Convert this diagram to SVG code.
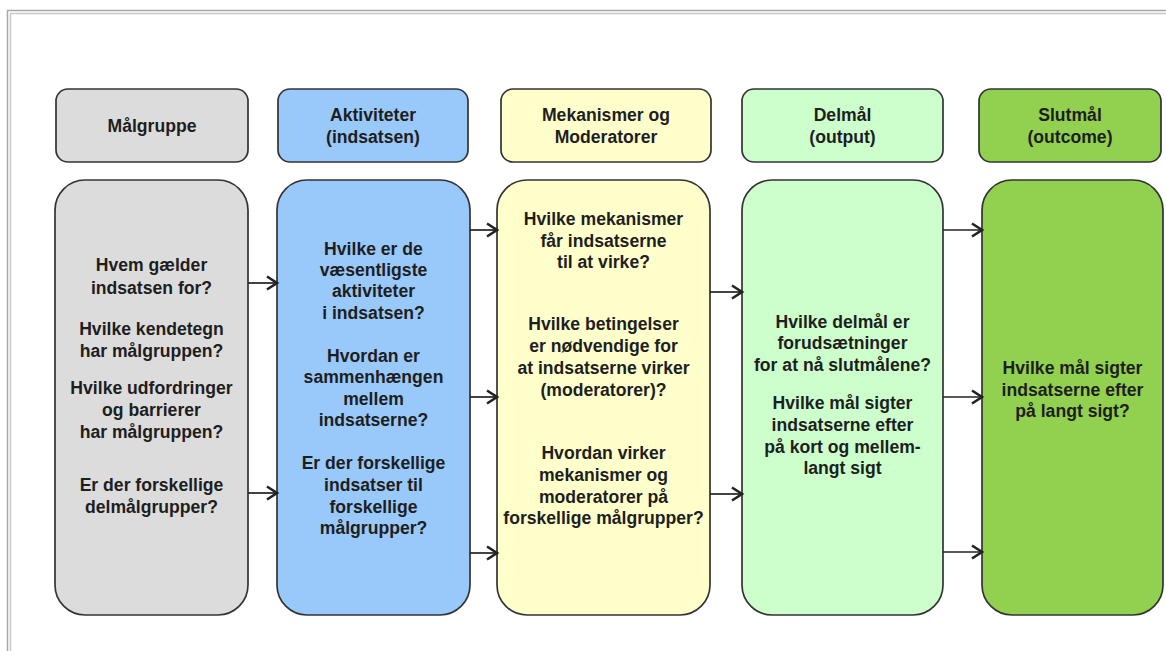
<svg xmlns="http://www.w3.org/2000/svg" width="1166" height="651" viewBox="0 0 1166 651">
<defs>
<style>
.box{stroke:#333;stroke-width:1.7}
.t{font-family:"Liberation Sans",Arial,sans-serif;font-weight:bold;font-size:17.6px;fill:#1e1e1e;text-anchor:middle}
.c{fill:none;stroke:#222;stroke-width:1.7}
</style>
<marker id="arr" viewBox="0 0 16 16" refX="13" refY="8" markerWidth="16" markerHeight="16" markerUnits="userSpaceOnUse" orient="auto">
<path d="M3,1.5 L13,8 L3,14.5" fill="none" stroke="#222" stroke-width="2.6" stroke-linejoin="miter"/>
</marker>
</defs>
<rect width="1166" height="651" fill="#fff"/>
<rect x="7.5" y="10.5" width="1300" height="800" fill="none" stroke="#a8a8a8" stroke-width="1.5"/>
<rect x="10.5" y="13.5" width="1300" height="800" fill="none" stroke="#c8c8c8" stroke-width="1.5"/>

<g id="h-malgruppe">
<rect class="box" x="56" y="89" width="192" height="73" rx="12" fill="#dcdcdc"/>
<text class="t" x="152" y="132">Målgruppe</text>
</g>
<g id="h-aktiviteter">
<rect class="box" x="278" y="89" width="190" height="73" rx="12" fill="#99c9fa"/>
<text class="t" x="373" y="121">Aktiviteter</text>
<text class="t" x="373" y="143">(indsatsen)</text>
</g>
<g id="h-mekanismer">
<rect class="box" x="501" y="89" width="210" height="73" rx="12" fill="#ffffcc"/>
<text class="t" x="606" y="121">Mekanismer og</text>
<text class="t" x="606" y="143">Moderatorer</text>
</g>
<g id="h-delmal">
<rect class="box" x="742" y="89" width="201" height="73" rx="12" fill="#ccffcc"/>
<text class="t" x="842.5" y="121">Delmål</text>
<text class="t" x="842.5" y="143">(output)</text>
</g>
<g id="h-slutmal">
<rect class="box" x="979" y="89" width="182" height="73" rx="12" fill="#92d050"/>
<text class="t" x="1070" y="121">Slutmål</text>
<text class="t" x="1070" y="143">(outcome)</text>
</g>

<g id="b-malgruppe">
<rect class="box" x="55" y="180" width="193" height="435" rx="30" fill="#dcdcdc"/>
<text class="t" x="151.5" y="271">Hvem gælder</text>
<text class="t" x="151.5" y="294">indsatsen for?</text>
<text class="t" x="151.5" y="335">Hvilke kendetegn</text>
<text class="t" x="151.5" y="357">har målgruppen?</text>
<text class="t" x="151.5" y="394">Hvilke udfordringer</text>
<text class="t" x="151.5" y="416">og barrierer</text>
<text class="t" x="151.5" y="438">har målgruppen?</text>
<text class="t" x="151.5" y="491">Er der forskellige</text>
<text class="t" x="151.5" y="513">delmålgrupper?</text>
</g>
<g id="b-aktiviteter">
<rect class="box" x="277" y="180" width="193" height="435" rx="30" fill="#99c9fa"/>
<text class="t" x="373.5" y="255">Hvilke er de</text>
<text class="t" x="373.5" y="276">væsentligste</text>
<text class="t" x="373.5" y="297">aktiviteter</text>
<text class="t" x="373.5" y="319">i indsatsen?</text>
<text class="t" x="373.5" y="362">Hvordan er</text>
<text class="t" x="373.5" y="383">sammenhængen</text>
<text class="t" x="373.5" y="405">mellem</text>
<text class="t" x="373.5" y="426">indsatserne?</text>
<text class="t" x="373.5" y="469">Er der forskellige</text>
<text class="t" x="373.5" y="491">indsatser til</text>
<text class="t" x="373.5" y="513">forskellige</text>
<text class="t" x="373.5" y="534">målgrupper?</text>
</g>
<g id="b-mekanismer">
<rect class="box" x="497" y="180" width="213" height="435" rx="30" fill="#ffffcc"/>
<text class="t" x="603.5" y="225">Hvilke mekanismer</text>
<text class="t" x="603.5" y="247">får indsatserne</text>
<text class="t" x="603.5" y="268">til at virke?</text>
<text class="t" x="603.5" y="330">Hvilke betingelser</text>
<text class="t" x="603.5" y="352">er nødvendige for</text>
<text class="t" x="603.5" y="374">at indsatserne virker</text>
<text class="t" x="603.5" y="396">(moderatorer)?</text>
<text class="t" x="603.5" y="459">Hvordan virker</text>
<text class="t" x="603.5" y="481">mekanismer og</text>
<text class="t" x="603.5" y="503">moderatorer på</text>
<text class="t" x="603.5" y="524">forskellige målgrupper?</text>
</g>
<g id="b-delmal">
<rect class="box" x="742" y="180" width="201" height="435" rx="30" fill="#ccffcc"/>
<text class="t" x="842.5" y="328">Hvilke delmål er</text>
<text class="t" x="842.5" y="349">forudsætninger</text>
<text class="t" x="842.5" y="371">for at nå slutmålene?</text>
<text class="t" x="842.5" y="409">Hvilke mål sigter</text>
<text class="t" x="842.5" y="431">indsatserne efter</text>
<text class="t" x="842.5" y="453">på kort og mellem-</text>
<text class="t" x="842.5" y="474">langt sigt</text>
</g>
<g id="b-slutmal">
<rect class="box" x="982" y="180" width="181" height="435" rx="30" fill="#92d050"/>
<text class="t" x="1072.5" y="374">Hvilke mål sigter</text>
<text class="t" x="1072.5" y="396">indsatserne efter</text>
<text class="t" x="1072.5" y="417">på langt sigt?</text>
</g>

<g id="connectors">
<line class="c" x1="248" y1="283" x2="277" y2="283" marker-end="url(#arr)"/>
<line class="c" x1="248" y1="493" x2="277" y2="493" marker-end="url(#arr)"/>
<line class="c" x1="470" y1="230" x2="497" y2="230" marker-end="url(#arr)"/>
<line class="c" x1="470" y1="397" x2="497" y2="397" marker-end="url(#arr)"/>
<line class="c" x1="470" y1="553" x2="497" y2="553" marker-end="url(#arr)"/>
<line class="c" x1="710" y1="292" x2="742" y2="292" marker-end="url(#arr)"/>
<line class="c" x1="710" y1="494" x2="742" y2="494" marker-end="url(#arr)"/>
<line class="c" x1="943" y1="230" x2="982" y2="230" marker-end="url(#arr)"/>
<line class="c" x1="943" y1="397" x2="982" y2="397" marker-end="url(#arr)"/>
<line class="c" x1="943" y1="552" x2="982" y2="552" marker-end="url(#arr)"/>
</g>
</svg>
